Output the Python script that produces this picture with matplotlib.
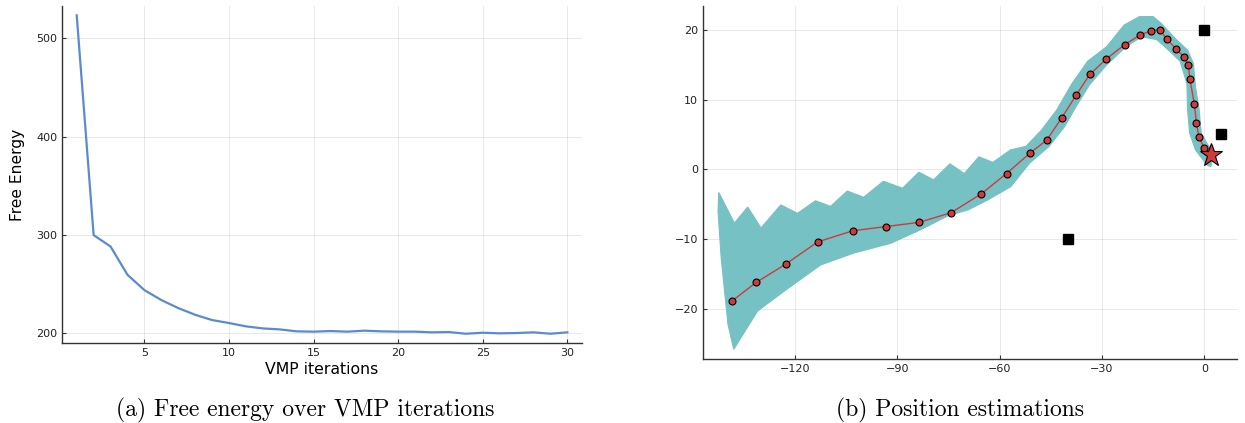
import numpy as np
import matplotlib.pyplot as plt

# free energy per VMP iteration
iters = np.arange(1, 31)
free_energy = [523.4, 299.7, 288.1, 259.3, 243.7, 233.6, 225.4, 218.6, 213.2, 210.2,
               206.8, 204.7, 203.7, 201.7, 201.4, 202.0, 201.4, 202.4, 201.7, 201.4,
               201.4, 200.7, 201.0, 199.3, 200.3, 199.7, 200.0, 200.7, 199.3, 200.7]

# mean position estimate
est_x = [-138.6, -131.4, -122.8, -113.4, -103.1, -93.4, -83.7, -74.2, -65.4, -58.0,
         -51.2, -46.2, -41.8, -37.5, -33.6, -28.8, -23.3, -19.0, -15.5, -13.1,
         -11.0, -8.2, -5.9, -4.7, -4.2, -2.9, -2.3, -1.6, -0.1]
est_y = [-18.9, -16.2, -13.6, -10.4, -8.8, -8.2, -7.6, -6.2, -3.5, -0.6,
         2.3, 4.2, 7.4, 10.7, 13.6, 15.8, 17.9, 19.2, 19.9, 20.0,
         18.7, 17.2, 16.1, 15.0, 12.9, 9.3, 6.6, 4.7, 3.1]
goal_x, goal_y = [1.9], [2.0]

landmark_x = [0, 5, -40]
landmark_y = [20, 5, -10]

# outline of the sampled trajectory bundle (upper edge left->right, lower edge right->left)
band_upper_x = [-142.4, -137.8, -133.9, -130.0, -124.2, -119.3, -114.0, -109.6, -104.7, -99.9,
                -94.1, -88.5, -83.7, -79.4, -74.6, -70.4, -66.1, -62.0, -56.8, -52.3,
                -47.8, -43.3, -38.8, -34.2, -28.6, -23.5, -19.0, -15.0, -12.8, -8.2,
                -4.9, -3.2, -2.6, -1.5, -0.9, 0.8, 2.8]
band_upper_y = [-3.3, -7.7, -5.4, -8.4, -5.1, -6.3, -4.5, -5.3, -3.1, -4.0,
                -1.7, -2.7, -0.4, -1.5, 0.8, -0.6, 1.8, 1.0, 2.8, 3.3,
                5.6, 8.5, 12.3, 15.5, 17.6, 20.7, 21.9, 21.9, 21.0, 18.6,
                17.1, 15.2, 11.9, 8.5, 5.2, 3.7, 2.3]
band_lower_x = [1.9, 0.8, -2.6, -4.3, -4.9, -5.1, -7.1, -10.5, -13.9, -18.4,
                -22.9, -28.6, -33.7, -37.6, -41.0, -45.5, -51.2, -56.8, -63.6, -69.2,
                -74.9, -83.4, -92.0, -102.8, -112.5, -122.2, -131.0, -138.0, -139.7, -141.7,
                -142.6]
band_lower_y = [0.4, 0.6, 2.8, 5.2, 8.5, 12.3, 15.5, 17.1, 18.6, 19.0,
                17.6, 15.0, 12.1, 9.0, 6.1, 3.3, 0.9, -2.5, -4.4, -5.8,
                -6.6, -8.7, -10.6, -12.0, -13.7, -17.1, -20.3, -25.8, -22.2, -12.6,
                -6.0]

teal = '#76c1c3'
red = '#d03a3a'
blue = '#5a8bd0'

fig = plt.figure(figsize=(12.45, 4.23), dpi=100)
ax1 = fig.add_axes([0.0498, 0.189, 0.4177, 0.797])
ax2 = fig.add_axes([0.5647, 0.151, 0.4289, 0.8345])

for ax in (ax1, ax2):
    for s in ('top', 'right'):
        ax.spines[s].set_visible(False)
    for s in ('left', 'bottom'):
        ax.spines[s].set_color('#333333')
        ax.spines[s].set_linewidth(1.0)
    ax.grid(True, color='#000000', alpha=0.1, linewidth=0.6)
    ax.set_axisbelow(True)
    ax.tick_params(direction='in', length=3, width=0.8, color='#333333',
                   labelsize=8, labelcolor='#222222')

# left panel
ax1.plot(iters, free_energy, color=blue, linewidth=1.6)
ax1.set_xlim(0.13, 30.87)
ax1.set_ylim(189.8, 533)
ax1.set_xticks([5, 10, 15, 20, 25, 30])
ax1.set_yticks([200, 300, 400, 500])
ax1.set_xlabel('VMP iterations', fontsize=11.3, labelpad=3)
ax1.set_ylabel('Free Energy', fontsize=11.2, labelpad=8)

# right panel
bx = band_upper_x + band_lower_x
by = band_upper_y + band_lower_y
ax2.fill(bx, by, color=teal, linewidth=0.8, edgecolor=teal)
ax2.plot(est_x, est_y, color=red, linewidth=1.0, marker='o', markersize=5,
         markerfacecolor=red, markeredgecolor='black', markeredgewidth=0.8)
ax2.plot(goal_x, goal_y, linestyle='none', marker='*', markersize=17,
         markerfacecolor=red, markeredgecolor='black', markeredgewidth=0.8)
ax2.plot(landmark_x, landmark_y, linestyle='none', marker='s', markersize=7,
         color='black')
ax2.set_xlim(-147, 9.6)
ax2.set_ylim(-27.2, 23.4)
ax2.set_xticks([-120, -90, -60, -30, 0])
ax2.set_yticks([-20, -10, 0, 10, 20])

fig.text(0.245, 0.03, '(a) Free energy over VMP iterations', ha='center', va='center',
         fontsize=17, family='cmr10')
fig.text(0.771, 0.03, '(b) Position estimations', ha='center', va='center',
         fontsize=17, family='cmr10')

fig.savefig('out.png', dpi=100)
